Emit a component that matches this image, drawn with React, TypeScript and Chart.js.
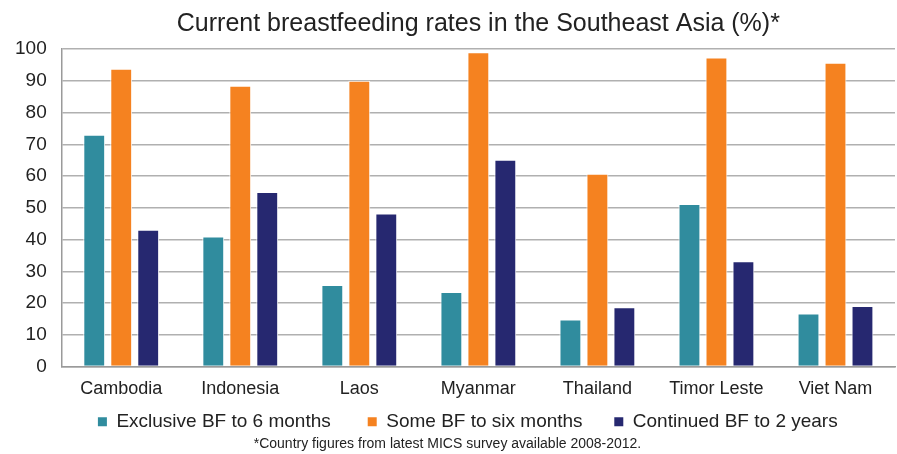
import React, { useEffect, useRef } from "react";
import { Chart, registerables } from "chart.js";

Chart.register(...registerables);

const categories = ["Cambodia", "Indonesia", "Laos", "Myanmar", "Thailand", "Timor Leste", "Viet Nam"];
const exclusiveBF = [73, 41, 25.7, 23.5, 14.8, 51.2, 16.7];
const someBF = [93.8, 88.4, 90, 99, 60.7, 97.3, 95.7];
const continuedBF = [43.1, 55, 48.2, 65.1, 18.7, 33.2, 19.1];
const seriesNames = ["Exclusive BF to 6 months", "Some BF to six months", "Continued BF to 2 years"];
const seriesColors = ["#308C9E", "#F58220", "#262870"];
const titleText = "Current breastfeeding rates in the Southeast Asia (%)*";
const footnoteText = "*Country figures from latest MICS survey available 2008-2012.";

const FONT = "'Liberation Sans', Arial, Helvetica, sans-serif";
const TEXT = "#222222";
const NB = "\u00a0";

export default function App() {
  const ref = useRef<HTMLCanvasElement | null>(null);

  useEffect(() => {
    document.body.style.margin = "0";
    const canvas = ref.current;
    if (!canvas) return;
    const values = [exclusiveBF, someBF, continuedBF];
    const trailing = [NB.repeat(7), NB.repeat(6), NB.repeat(4)];
    const chart = new Chart(canvas, {
      type: "bar",
      data: {
        labels: categories,
        datasets: values.map((v, i) => ({
          label: seriesNames[i],
          data: v,
          backgroundColor: seriesColors[i],
          borderColor: "#ffffff",
          borderWidth: { top: 1, left: 1, right: 1, bottom: 0 },
          categoryPercentage: 0.68,
          barPercentage: 0.81,
        })),
      },
      options: {
        animation: false,
        responsive: false,
        maintainAspectRatio: false,
        layout: { padding: { top: 4, right: 2, bottom: 1, left: 0 } },
        plugins: {
          title: {
            display: true,
            text: titleText,
            fullSize: false,
            color: TEXT,
            font: { family: FONT, size: 25, weight: "normal" },
            padding: { top: 5, bottom: 10 },
          },
          subtitle: {
            display: true,
            position: "bottom",
            text: footnoteText,
            color: TEXT,
            font: { family: FONT, size: 14, weight: "normal" },
            padding: { top: 0, bottom: 0 },
          },
          legend: {
            display: true,
            position: "bottom",
            fullSize: false,
            maxHeight: 24,
            labels: {
              color: TEXT,
              font: { family: FONT, size: 19 },
              boxWidth: 9,
              boxHeight: 9,
              padding: 0,
              generateLabels: (c: any) => {
                const items = Chart.defaults.plugins.legend.labels.generateLabels(c);
                items.forEach((it: any, i: number) => {
                  it.text = it.text + trailing[i];
                  it.lineWidth = 0;
                });
                return items;
              },
            },
          },
          tooltip: { enabled: false },
        },
        scales: {
          x: {
            grid: { display: false, drawTicks: false },
            border: { display: true, color: "#9a9a9a", width: 1.5 },
            ticks: { color: TEXT, font: { family: FONT, size: 18 }, padding: 12 },
          },
          y: {
            min: 0,
            max: 100,
            ticks: { stepSize: 10, color: TEXT, font: { family: FONT, size: 19 }, padding: 15 },
            grid: { color: "#b0b0b0", lineWidth: 1.5, drawTicks: false },
            border: { display: true, color: "#9a9a9a", width: 1.5 },
          },
        },
      },
    });
    return () => chart.destroy();
  }, []);

  return (
    <div style={{ position: "fixed", left: 0, top: 0, width: 897, height: 454, background: "#fff" }}>
      <canvas ref={ref} width={897} height={454} style={{ width: 897, height: 454, display: "block" }} />
    </div>
  );
}
